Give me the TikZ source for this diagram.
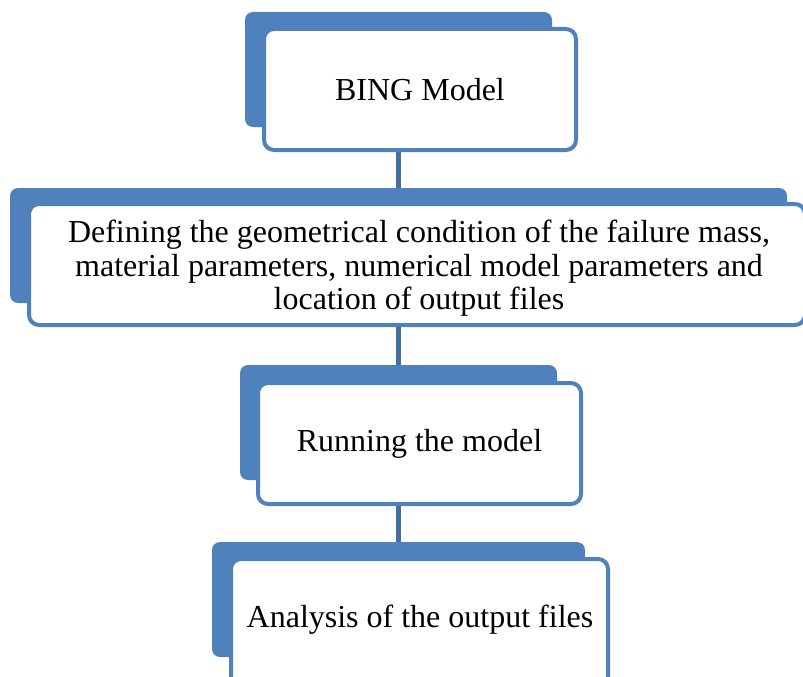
\documentclass[tikz,border=0pt]{standalone}
\usepackage{fontspec}
\setmainfont{Liberation Serif}
\definecolor{acc}{HTML}{4F81BD}
\definecolor{lnk}{HTML}{41709F}
\begin{document}
\begin{tikzpicture}[x=1pt,y=-1pt,
  back/.style={rectangle, rounded corners=8pt, fill=acc, draw=none, inner sep=0pt},
  front/.style={rectangle, rounded corners=10pt, fill=white, draw=acc, line width=4pt, inner sep=0pt, align=center, font=\fontsize{32}{34}\selectfont},
  link/.style={draw=lnk, line width=5pt}]
\useasboundingbox (0,0) rectangle (803,677);
\clip (0,0) rectangle (803,677);
\coordinate (cx) at (398.5,0);
% boxes
\node[back, minimum width=307pt, minimum height=115pt] (b1) at (398.5,69.5) {};
\node[front, minimum width=312pt, minimum height=121pt] (f1) at (420,89.5) {BING Model};
\node[back, minimum width=777pt, minimum height=115pt] (b2) at (398.5,245.5) {};
\node[front, minimum width=776pt, minimum height=121pt] (f2) at (417,264.5) {};
\node[font=\fontsize{32}{33.5}\selectfont, align=center, inner sep=0pt] (t2) at (419,268.5) {Defining the geometrical condition of the failure mass,\\material parameters, numerical model parameters and\\location of output files};
\node[back, minimum width=317pt, minimum height=115pt] (b3) at (398.5,422.5) {};
\node[front, minimum width=323pt, minimum height=121pt] (f3) at (419.5,443.5) {Running the model};
\node[back, minimum width=373pt, minimum height=115pt] (b4) at (398.5,599.5) {};
\node[front, minimum width=377pt, minimum height=131pt] (f4) at (419.5,624.5) {};
\node[font=\fontsize{32}{34}\selectfont, inner sep=0pt] (t4) at (420,620) {Analysis of the output files};
% connectors
\draw[link] (f1.south -| cx) -- (b2.north -| cx);
\draw[link] (f2.south -| cx) -- (b3.north -| cx);
\draw[link] (f3.south -| cx) -- (b4.north -| cx);
\end{tikzpicture}
\end{document}
